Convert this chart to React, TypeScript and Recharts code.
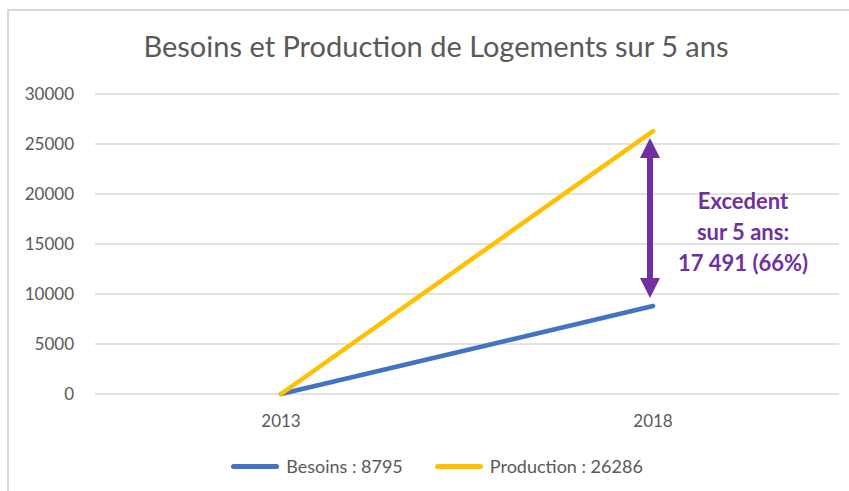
import { LineChart, Line, XAxis, YAxis, CartesianGrid, Legend, ReferenceLine } from 'recharts'

document.body.style.margin = '0'

const years = ['2013', '2018']
const besoins = [0, 8795]
const production = [0, 26286]
const yTicks = [0, 5000, 10000, 15000, 20000, 25000, 30000]
const seriesNames = ['Besoins : 8795', 'Production : 26286']
// ends of the purple arrow
const arrowEnds = [25600, 9600]
const excedentLines = ['Excedent', 'sur 5 ans:', '17 491 (66%)']

const data = years.map((year, i) => ({
  year,
  besoins: besoins[i],
  production: production[i],
}))

const FONT = 'Lato, "Open Sans", sans-serif'
const GREY = '#595959'
const PURPLE = '#7030A0'

function ExcedentArrow(props: any) {
  const { x1, y1, y2 } = props
  const x = x1 - 3
  const top = Math.min(y1, y2)
  const bottom = Math.max(y1, y2)
  const head = 20
  return (
    <g>
      <line x1={x} y1={top + head - 2} x2={x} y2={bottom - head + 2} stroke={PURPLE} strokeWidth={6} />
      <polygon points={`${x},${top} ${x - 10},${top + head} ${x + 10},${top + head}`} fill={PURPLE} />
      <polygon points={`${x},${bottom} ${x - 10},${bottom - head} ${x + 10},${bottom - head}`} fill={PURPLE} />
      <text textAnchor="middle" fill={PURPLE} fontWeight="bold" fontSize={22} fontFamily={FONT}>
        {excedentLines.map((t, i) => (
          <tspan key={i} x={x + 93} y={top + 71 + i * 31}>
            {t}
          </tspan>
        ))}
      </text>
    </g>
  )
}

function LegendContent({ payload }: any) {
  return (
    <div
      style={{
        display: 'flex',
        justifyContent: 'center',
        gap: 32,
        height: 24,
        lineHeight: '24px',
        fontFamily: FONT,
        fontSize: 18,
        color: GREY,
      }}
    >
      {(payload || []).map((entry: any) => (
        <div key={entry.value} style={{ display: 'flex', alignItems: 'center' }}>
          <span
            style={{
              display: 'inline-block',
              width: 48,
              height: 5,
              borderRadius: 3,
              background: entry.color,
              marginRight: 7,
            }}
          />
          {entry.value}
        </div>
      ))}
    </div>
  )
}

export default function App() {
  return (
    <div style={{ position: 'relative', width: 849, height: 491, overflow: 'hidden', background: '#fff' }}>
      <div
        style={{
          position: 'absolute',
          left: 7,
          top: 9,
          right: -4,
          bottom: -4,
          borderLeft: '2px solid #d9d9d9',
          borderTop: '2px solid #d9d9d9',
        }}
      />
      <div
        style={{
          position: 'absolute',
          left: 36,
          top: 31,
          width: 800,
          textAlign: 'center',
          fontFamily: FONT,
          fontSize: 29,
          lineHeight: 1,
          color: GREY,
        }}
      >
        Besoins et Production de Logements sur 5 ans
      </div>
      <LineChart width={849} height={491} data={data} margin={{ top: 94, right: 10, bottom: 13, left: 35 }}>
        <CartesianGrid vertical={false} stroke="#d9d9d9" strokeWidth={1.5} />
        <XAxis
          dataKey="year"
          axisLine={false}
          tickLine={false}
          height={60}
          tickMargin={15}
          padding={{ left: 186, right: 186 }}
          tick={{ fill: GREY, fontSize: 17, fontFamily: FONT }}
        />
        <YAxis
          domain={[0, 30000]}
          ticks={yTicks}
          width={60}
          axisLine={false}
          tickLine={false}
          tickMargin={15}
          tick={{ fill: GREY, fontSize: 17, fontFamily: FONT }}
        />
        <Legend verticalAlign="bottom" content={<LegendContent />} />
        <Line
          dataKey="besoins"
          name={seriesNames[0]}
          stroke="#4472C4"
          strokeWidth={4.5}
          strokeLinecap="round"
          dot={false}
          isAnimationActive={false}
        />
        <Line
          dataKey="production"
          name={seriesNames[1]}
          stroke="#FFC000"
          strokeWidth={4.5}
          strokeLinecap="round"
          dot={false}
          isAnimationActive={false}
        />
        <ReferenceLine
          segment={[
            { x: years[1], y: arrowEnds[0] },
            { x: years[1], y: arrowEnds[1] },
          ]}
          shape={(p: any) => <ExcedentArrow {...p} />}
        />
      </LineChart>
    </div>
  )
}
